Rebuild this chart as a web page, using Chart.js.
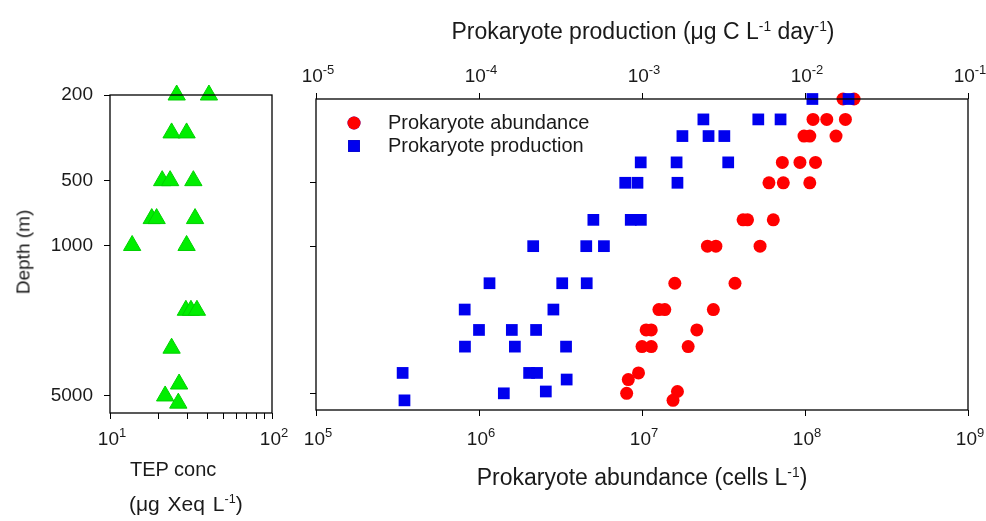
<!DOCTYPE html>
<html>
<head>
<meta charset="utf-8">
<script src="https://cdn.jsdelivr.net/npm/chart.js@4.4.0/dist/chart.umd.min.js"></script>
<style>
  body { margin: 0; background: #fff; font-family: "Liberation Sans", Arial, sans-serif; }
  #wrap { position: relative; width: 986px; height: 521px; overflow: hidden; }
  canvas { position: absolute; left: 0; top: 0; }
  .t { position: absolute; color: #1a1a1a; white-space: nowrap; line-height: 1; }
  .t sup { font-size: 60%; vertical-align: 0.6em; line-height: 0; }
</style>
</head>
<body>
<div id="wrap">
  <canvas id="tepChart" width="986" height="521"></canvas>
  <canvas id="prokChart" width="986" height="521"></canvas>

  <div class="t" style="font-size:23px;left:643px;top:20px;transform:translateX(-50%)">Prokaryote production (μg C L<sup>-1</sup> day<sup>-1</sup>)</div>
  <div class="t" style="font-size:19px;left:23px;top:252px;transform:translate(-50%,-50%) rotate(-90deg)">Depth (m)</div>
  <div class="t" style="font-size:23px;left:642px;top:466px;transform:translateX(-50%)">Prokaryote abundance (cells L<sup>-1</sup>)</div>
  <div class="t" style="font-size:20px;left:130px;top:459px">TEP conc</div>
  <div class="t" style="font-size:21px;left:129px;top:493px;word-spacing:2px">(μg Xeq L<sup>-1</sup>)</div>
</div>

<script>
// ---- data ----
// left panel: TEP concentration (ug Xeq/L) vs depth (m)
const tepDepth = [200, 200, 300, 300, 500, 500, 500, 750, 750, 750, 1000, 1000, 2000, 2000, 2000, 3000, 4400, 5000, 5400];
const tepConc  = [25.8, 40.8, 24.0, 29.7, 21.0, 23.5, 32.7, 18.1, 19.4, 33.5, 13.7, 29.7, 29.4, 31.6, 34.4, 24.0, 26.7, 21.9, 26.4];

// right panel: prokaryote abundance (cells/L) vs depth
const abundDepth = [200, 200, 250, 250, 250, 300, 300, 300, 400, 400, 400, 500, 500, 500, 750, 750, 750,
  1000, 1000, 1000, 1500, 1500, 2000, 2000, 2000, 2500, 2500, 2500, 3000, 3000, 3000, 4000, 4300, 4900, 5000, 5400];
const abundance = [1.71e8, 2.0e8, 1.12e8, 1.36e8, 1.77e8, 9.86e7, 1.07e8, 1.55e8, 7.26e7, 9.31e7, 1.16e8,
  6.01e7, 7.36e7, 1.07e8, 4.17e7, 4.44e7, 6.39e7, 2.52e7, 2.84e7, 5.3e7, 1.59e7, 3.72e7,
  1.27e7, 1.38e7, 2.74e7, 1.06e7, 1.14e7, 2.17e7, 1.0e7, 1.14e7, 1.92e7, 9.52e6, 8.24e6, 1.65e7, 8.05e6, 1.55e7];

// right panel: prokaryote production (ug C/L/day) vs depth
const prodDepth = [200, 200, 250, 250, 250, 300, 300, 300, 400, 400, 400, 500, 500, 500, 750, 750, 750,
  1000, 1000, 1000, 1500, 1500, 1500, 2000, 2000, 2500, 2500, 2500, 3000, 3000, 3000, 4000, 4000, 4000, 4300, 4900, 5000, 5400];
const production = [1.11e-2, 1.85e-2, 2.38e-3, 5.17e-3, 7.08e-3, 1.77e-3, 2.56e-3, 3.2e-3, 9.82e-4, 1.63e-3, 3.38e-3,
  7.89e-4, 9.38e-4, 1.65e-3, 5.03e-4, 8.53e-4, 9.84e-4, 2.15e-4, 4.55e-4, 5.84e-4, 1.16e-4, 3.24e-4, 4.58e-4,
  8.17e-5, 2.86e-4, 1.0e-4, 1.59e-4, 2.24e-4, 8.2e-5, 1.66e-4, 3.42e-4, 3.4e-5, 2.03e-4, 2.27e-4, 3.45e-4, 2.57e-4, 1.42e-4, 3.49e-5];

const depthTicks = [200, 500, 1000, 5000];
const tepTicks = [10, 20, 30, 40, 50, 60, 70, 80, 90, 100];
const abundTicks = [1e5, 1e6, 1e7, 1e8, 1e9];
const prodTicks = [1e-5, 1e-4, 1e-3, 1e-2, 1e-1];

const FONT = '"Liberation Sans", Arial, sans-serif';
const INK = '#1a1a1a';

function pts(xs, ys) {
  return xs.map((v, i) => ({ x: v, y: ys[i] }));
}

// zero size axes, the chart area is placed by the padding
function flat(scale) {
  if (scale.isHorizontal()) scale.height = 0;
  else scale.width = 0;
}

function logAxis(min, max, ticks, position, reverse) {
  return {
    type: 'logarithmic',
    position: position,
    min: min,
    max: max,
    reverse: !!reverse,
    afterBuildTicks: (s) => { s.ticks = ticks.map(v => ({ value: v })); },
    afterFit: flat,
    ticks: { display: false, autoSkip: false },
    grid: { drawOnChartArea: false, drawTicks: true, tickLength: 6, color: '#000', lineWidth: 1 },
    border: { display: false }
  };
}

// "10" with a raised exponent
function pow10(ctx, exp, cx, cy) {
  ctx.save();
  ctx.fillStyle = INK;
  ctx.textBaseline = 'middle';
  ctx.textAlign = 'left';
  ctx.font = '19px ' + FONT;
  const w1 = ctx.measureText('10').width;
  ctx.font = '13px ' + FONT;
  const w2 = ctx.measureText(exp).width;
  const x0 = cx - (w1 + w2) / 2;
  ctx.font = '19px ' + FONT;
  ctx.fillText('10', x0, cy);
  ctx.font = '13px ' + FONT;
  ctx.fillText(exp, x0 + w1, cy - 7);
  ctx.restore();
}

const boxPlugin = {
  id: 'box',
  afterDraw(chart) {
    const a = chart.chartArea, ctx = chart.ctx;
    ctx.save();
    ctx.strokeStyle = '#000';
    ctx.lineWidth = 1.3;
    ctx.strokeRect(a.left, a.top, a.right - a.left, a.bottom - a.top);
    ctx.restore();
  }
};

// left panel labels
const tepLabels = {
  id: 'tepLabels',
  afterDraw(chart) {
    const ctx = chart.ctx, x = chart.scales.x, y = chart.scales.y;
    ctx.save();
    ctx.fillStyle = INK;
    ctx.font = '19px ' + FONT;
    ctx.textAlign = 'right';
    ctx.textBaseline = 'middle';
    depthTicks.forEach(d => ctx.fillText(String(d), x.left - 17, y.getPixelForValue(d)));
    ctx.restore();
    [10, 100].forEach(v => pow10(ctx, String(Math.round(Math.log10(v))), x.getPixelForValue(v) + 2, chart.chartArea.bottom + 27));
  }
};

// right panel labels + legend
const prokLabels = {
  id: 'prokLabels',
  afterDraw(chart) {
    const ctx = chart.ctx, a = chart.chartArea;
    const xb = chart.scales.x, xt = chart.scales.x2;
    abundTicks.forEach(v => pow10(ctx, String(Math.round(Math.log10(v))), xb.getPixelForValue(v) + 2, a.bottom + 30));
    prodTicks.forEach(v => pow10(ctx, String(Math.round(Math.log10(v))), xt.getPixelForValue(v) + 2, a.top - 22));

    // legend inside the plot
    const ds = chart.data.datasets;
    ctx.save();
    ctx.font = '20px ' + FONT;
    ctx.textBaseline = 'middle';
    ctx.textAlign = 'left';
    [ds[1], ds[0]].forEach((d, i) => {
      const ly = a.top + 24 + i * 23;
      Chart.helpers.drawPoint(ctx, {
        pointStyle: d.pointStyle, radius: d.pointRadius, borderWidth: 0, rotation: 0
      }, a.left + 38, ly);
      ctx.fillStyle = d.backgroundColor;
      ctx.fill();
      ctx.fillStyle = INK;
      ctx.fillText(d.label, a.left + 72, ly);
    });
    ctx.restore();
  }
};

Chart.defaults.animation = false;
Chart.defaults.font.family = FONT;

new Chart(document.getElementById('tepChart'), {
  type: 'scatter',
  data: {
    datasets: [{
      label: 'TEP conc',
      data: pts(tepConc, tepDepth),
      pointStyle: 'triangle',
      pointRadius: 10,
      backgroundColor: '#00ee00',
      borderColor: '#00d000',
      borderWidth: 1,
      clip: false
    }]
  },
  options: {
    responsive: false,
    layout: { padding: { left: 110, right: 714, top: 95, bottom: 108 } },
    plugins: { legend: { display: false }, tooltip: { enabled: false } },
    scales: {
      x: logAxis(10, 100, tepTicks, 'bottom'),
      y: logAxis(200, 6000, depthTicks, 'left', true)
    }
  },
  plugins: [boxPlugin, tepLabels]
});

new Chart(document.getElementById('prokChart'), {
  type: 'scatter',
  data: {
    datasets: [{
      label: 'Prokaryote production',
      data: pts(production, prodDepth),
      xAxisID: 'x2',
      pointStyle: 'rect',
      pointRadius: 8.3,
      backgroundColor: '#0000ee',
      borderWidth: 0,
      clip: false,
      order: 0
    }, {
      label: 'Prokaryote abundance',
      data: pts(abundance, abundDepth),
      xAxisID: 'x',
      pointStyle: 'circle',
      pointRadius: 6.5,
      backgroundColor: '#ff0000',
      borderWidth: 0,
      clip: false,
      order: 1
    }]
  },
  options: {
    responsive: false,
    layout: { padding: { left: 316, right: 18, top: 99, bottom: 111 } },
    plugins: { legend: { display: false }, tooltip: { enabled: false } },
    scales: {
      x: logAxis(1e5, 1e9, abundTicks, 'bottom'),
      x2: logAxis(1e-5, 1e-1, prodTicks, 'top'),
      y: logAxis(200, 6000, [500, 1000, 5000], 'left', true)
    }
  },
  plugins: [boxPlugin, prokLabels]
});
</script>
</body>
</html>
